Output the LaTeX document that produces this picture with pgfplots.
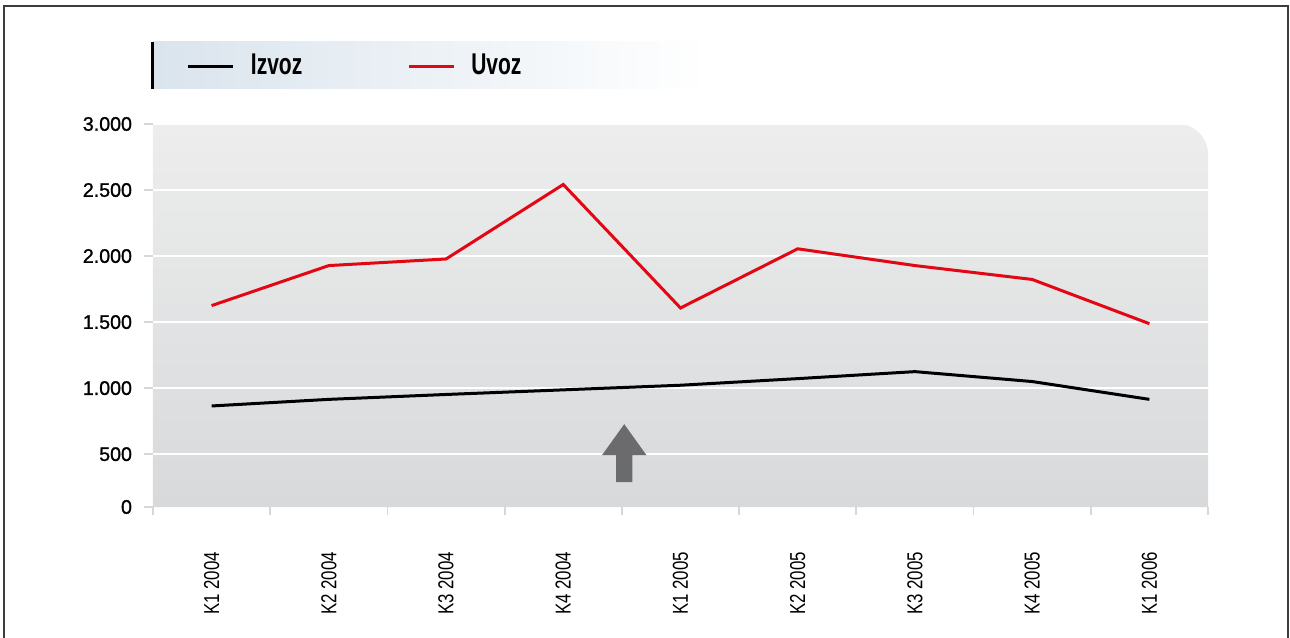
\documentclass[border=0pt]{standalone}
\usepackage{fontspec}
\setmainfont{Liberation Sans}
\newfontfamily\legfont{Liberation Sans Bold}[FakeStretch=0.7]
\newfontfamily\narrowfont{Liberation Sans}[FakeStretch=0.78]
\newfontfamily\tickfont{Liberation Sans}[FakeBold=1.2]
\usepackage{pgfplots}
\pgfplotsset{compat=1.18}
\definecolor{uvozred}{RGB}{227,6,19}
\definecolor{bgtop}{RGB}{236,237,236}
\definecolor{bgbot}{RGB}{216,217,219}
\definecolor{legblue}{RGB}{218,228,237}
\definecolor{arrowgray}{RGB}{107,107,110}
\definecolor{tickgray}{RGB}{215,215,215}
\definecolor{framegray}{RGB}{60,60,60}
\begin{document}
\begin{tikzpicture}
\useasboundingbox (-76.5pt,-65pt) rectangle (568.5pt,253.5pt);
\draw[framegray, line width=0.6pt] (-74.5pt,-66pt) -- (-74.5pt,250.5pt) -- (567.5pt,250.5pt) -- (567.5pt,-66pt);
% legend background box
\shade[left color=legblue, right color=white] (0pt,209pt) rectangle (278.5pt,232.5pt);
\fill[black] (-0.8pt,209pt) rectangle (0.7pt,232.5pt);
% plot area background with rounded top-right corner
\shade[top color=bgtop, bottom color=bgbot] (0pt,0pt) -- (0pt,191.5pt) -- (512.5pt,191.5pt) arc[start angle=90, end angle=0, radius=15pt] -- (527.5pt,0pt) -- cycle;
\begin{axis}[
  at={(0pt,0pt)}, anchor=south west,
  scale only axis, width=527.5pt, height=191.5pt,
  xmin=-0.5, xmax=8.5, ymin=100, ymax=3000,
  axis line style={draw=none},
  tick pos=left, tick align=outside,
  xtick={0,...,8},
  xticklabels={K1 2004,K2 2004,K3 2004,K4 2004,K1 2005,K2 2005,K3 2005,K4 2005,K1 2006},
  major x tick style={draw=none},
  minor xtick={-0.5,0.5,1.5,2.5,3.5,4.5,5.5,6.5,7.5,8.5},
  minor x tick style={tickgray, line width=0.9pt},
  minor tick length=4pt,
  major tick length=4.5pt,
  ytick={500,1000,1500,2000,2500,3000},
  yticklabels={500,1.000,1.500,2.000,2.500,3.000},
  extra y ticks={100},
  extra y tick labels={0},
  extra y tick style={grid=none},
  y tick style={tickgray, line width=0.9pt},
  ymajorgrids=true,
  y grid style={white, line width=0.8pt},
  yticklabel style={font=\tickfont\fontsize{9.8}{10}\selectfont, xshift=-2.5pt},
  xticklabel style={rotate=90, anchor=east, font=\narrowfont\fontsize{10.8}{11}\selectfont, xshift=-14.5pt},
  legend style={at={(axis description cs:0.0322,1.1514)}, anchor=west,
    draw=none, fill=none, inner sep=0pt, outer sep=0pt,
    font=\legfont\fontsize{15}{15}\selectfont,
    nodes={inner sep=0pt},
    /tikz/every odd column/.append style={column sep=8pt},
    /tikz/every even column/.append style={column sep=52.5pt}},
  legend columns=2,
  legend cell align=left,
  legend image code/.code={\draw[#1, line width=1.5pt] (0pt,0pt) -- (22.5pt,0pt);},
]
\addplot[black, line width=1.5pt] coordinates {(0,865) (1,915) (2,952) (3,987) (4,1022) (5,1072) (6,1125) (7,1050) (8,915)};
\addlegendentry{Izvoz}
\addplot[uvozred, line width=1.5pt] coordinates {(0,1625) (1,1928) (2,1978) (3,2542) (4,1607) (5,2055) (6,1928) (7,1823) (8,1488)};
\addlegendentry{Uvoz}
\fill[arrowgray] (axis cs:3.45,288) -- (axis cs:3.45,492) -- (axis cs:3.33,492) -- (axis cs:3.52,727) -- (axis cs:3.71,492) -- (axis cs:3.59,492) -- (axis cs:3.59,288) -- cycle;
\end{axis}
\end{tikzpicture}
\end{document}
